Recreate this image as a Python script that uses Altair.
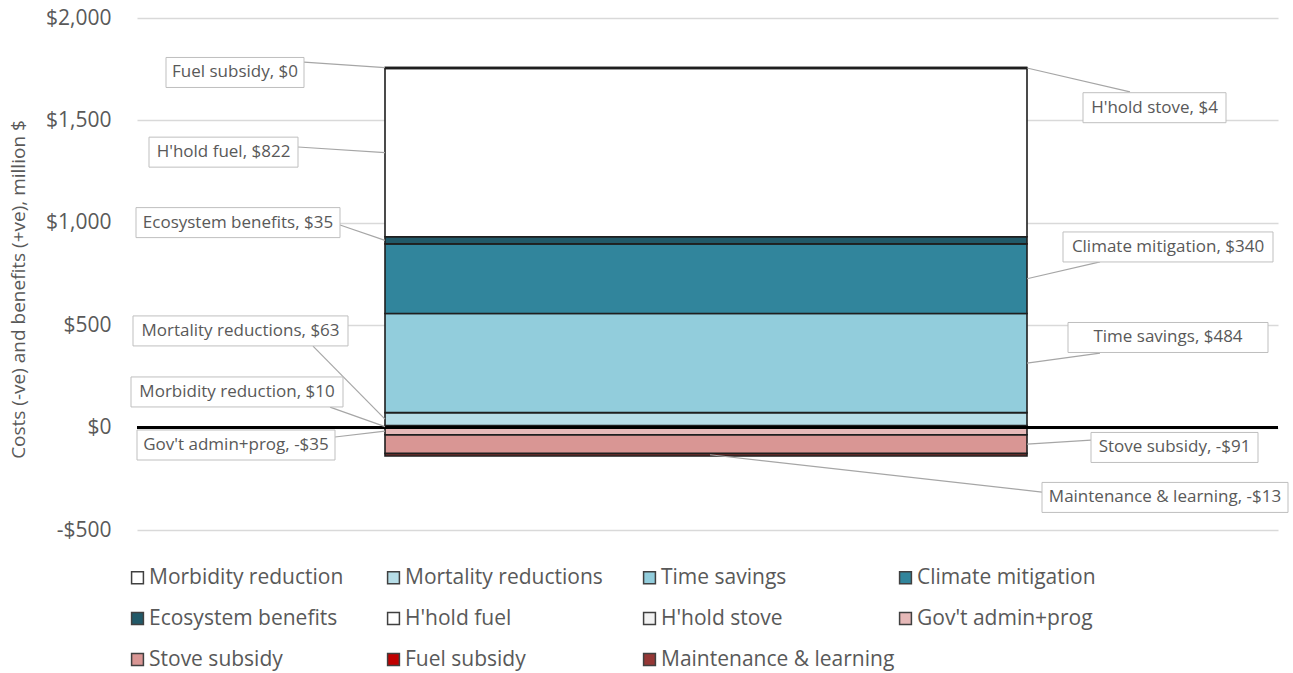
import altair as alt
import pandas as pd

# ---------------- data ----------------
categories = ["Morbidity reduction", "Mortality reductions", "Time savings", "Climate mitigation",
              "Ecosystem benefits", "H'hold fuel", "H'hold stove", "Gov't admin+prog",
              "Stove subsidy", "Fuel subsidy", "Maintenance & learning"]
values = [10, 63, 484, 340, 35, 822, 4, -35, -91, 0, -13]
colors = ["#FFFFFF", "#B7DEE8", "#92CDDC", "#31859C", "#215968", "#FFFFFF", "#F2F2F2",
          "#E6B9B8", "#D99694", "#C00000", "#953735"]
tick_values = [-500, 0, 500, 1000, 1500, 2000]

# ---------------- layout (callout placement) ----------------
W, H = 1141, 512
Y_MIN, Y_MAX = -500, 2000
DPP = (Y_MAX - Y_MIN) / H          # data units per pixel
BAR_LEFT, BAR_RIGHT = 248, 890
BOX_H = 30
# box centre x (px), box centre y (data), box width (px), leader start x (px), leader start y (data), leader end x (px)
callout_layout = {
    "Morbidity reduction":    (100, 174, 212, 193, 100, BAR_LEFT),
    "Mortality reductions":   (103.5, 472, 215, 176, 398, BAR_LEFT),
    "Time savings":           (1031, 440, 200, 963, 364, BAR_RIGHT),
    "Climate mitigation":     (1031, 882, 210, 963, 809, BAR_RIGHT),
    "Ecosystem benefits":     (101, 1001, 204, 203, 989, BAR_LEFT),
    "H'hold fuel":            (86.5, 1345, 149, 161, 1370, BAR_LEFT),
    "H'hold stove":           (1017.5, 1562, 143, 993, 1639, BAR_RIGHT),
    "Gov't admin+prog":       (99, -85, 198, 198, -46, BAR_LEFT),
    "Stove subsidy":          (1037.5, -97, 167, 954, -61, BAR_RIGHT),
    "Fuel subsidy":           (98, 1734, 138, 167, 1785, BAR_LEFT),
    "Maintenance & learning": (1028, -341, 246, 905, -315, 573),
}

# ---------------- build table ----------------
rows = []
pos, neg = 0, 0
for c, v in zip(categories, values):
    if v >= 0:
        s, e = pos, pos + v
        pos = e
    else:
        s, e = neg, neg + v
        neg = e
    label = f"{c}, ${v}" if v >= 0 else f"{c}, -${abs(v)}"
    cx, cy, bw, sx, sy, ex = callout_layout[c]
    rows.append(dict(cat=c, value=v, start=s, end=e, mid=(s + e) / 2, label=label,
                     bx0=BAR_LEFT, bx1=BAR_RIGHT,
                     cx=cx, cy=cy, lx0=cx - bw / 2, lx1=cx + bw / 2,
                     ly0=cy - BOX_H / 2 * DPP, ly1=cy + BOX_H / 2 * DPP,
                     sx=sx, sy=sy, ex=ex))
df = pd.DataFrame(rows)

FONT = "Open Sans"
GREY = "#595959"

xscale = alt.Scale(domain=[0, W], nice=False, zero=False)
yscale = alt.Scale(domain=[Y_MIN, Y_MAX], nice=False, zero=False)

base = alt.Chart(df)

bars = base.mark_rect(stroke="#1F1F1F", strokeWidth=1.6).encode(
    x=alt.X("bx0:Q", scale=xscale, axis=None),
    x2="bx1:Q",
    y=alt.Y("start:Q", scale=yscale,
            axis=alt.Axis(values=tick_values,
                          labelExpr="datum.value < 0 ? '-$' + format(-datum.value, ',') : '$' + format(datum.value, ',')",
                          domain=False, ticks=False, tickSize=0, labelPadding=26,
                          labelFont=FONT, labelFontSize=21, labelColor=GREY,
                          gridColor="#D9D9D9", gridWidth=1.3,
                          title="Costs (-ve) and benefits (+ve), million $",
                          titleFont=FONT, titleFontSize=19, titleFontWeight="normal",
                          titleColor=GREY, titleAngle=270, titleX=-119, titleY=271,
                          titleAlign="center", titleBaseline="middle")),
    y2="end:Q",
    color=alt.Color("cat:N",
                    scale=alt.Scale(domain=categories, range=colors),
                    legend=alt.Legend(title=None, orient="none", legendX=-10, legendY=549,
                                      direction="horizontal",
                                      columns=4, gridAlign="all", columnPadding=-2,
                                      rowPadding=19, symbolType="square", symbolSize=140,
                                      symbolStrokeColor="#404040", symbolStrokeWidth=1.5,
                                      labelFont=FONT, labelFontSize=21, labelColor=GREY,
                                      labelOffset=1, labelLimit=400, padding=0)),
    order=alt.Order("start:Q"),
)

zero_line = alt.Chart(pd.DataFrame({"z": [0]})).mark_rule(color="black", strokeWidth=3).encode(
    y=alt.Y("z:Q", scale=yscale)
)

leaders = base.mark_rule(color="#A6A6A6", strokeWidth=1.2).encode(
    x=alt.X("sx:Q", scale=xscale), x2="ex:Q",
    y=alt.Y("sy:Q", scale=yscale), y2="mid:Q",
)

boxes = base.mark_rect(fill="white", stroke="#BFBFBF", strokeWidth=1).encode(
    x=alt.X("lx0:Q", scale=xscale), x2="lx1:Q",
    y=alt.Y("ly0:Q", scale=yscale), y2="ly1:Q",
)

texts = base.mark_text(font=FONT, fontSize=17, color=GREY, align="center", baseline="middle").encode(
    x=alt.X("cx:Q", scale=xscale),
    y=alt.Y("cy:Q", scale=yscale),
    text="label:N",
)

chart = alt.layer(bars, zero_line, leaders, boxes, texts).properties(
    width=W, height=H,
    padding={"left": 137, "top": 18, "right": 15, "bottom": 143},
    autosize=alt.AutoSizeParams(type="none"),
    background="white",
).configure_view(stroke=None)

chart.save("out.html", embed_options={"renderer": "svg", "actions": False})
